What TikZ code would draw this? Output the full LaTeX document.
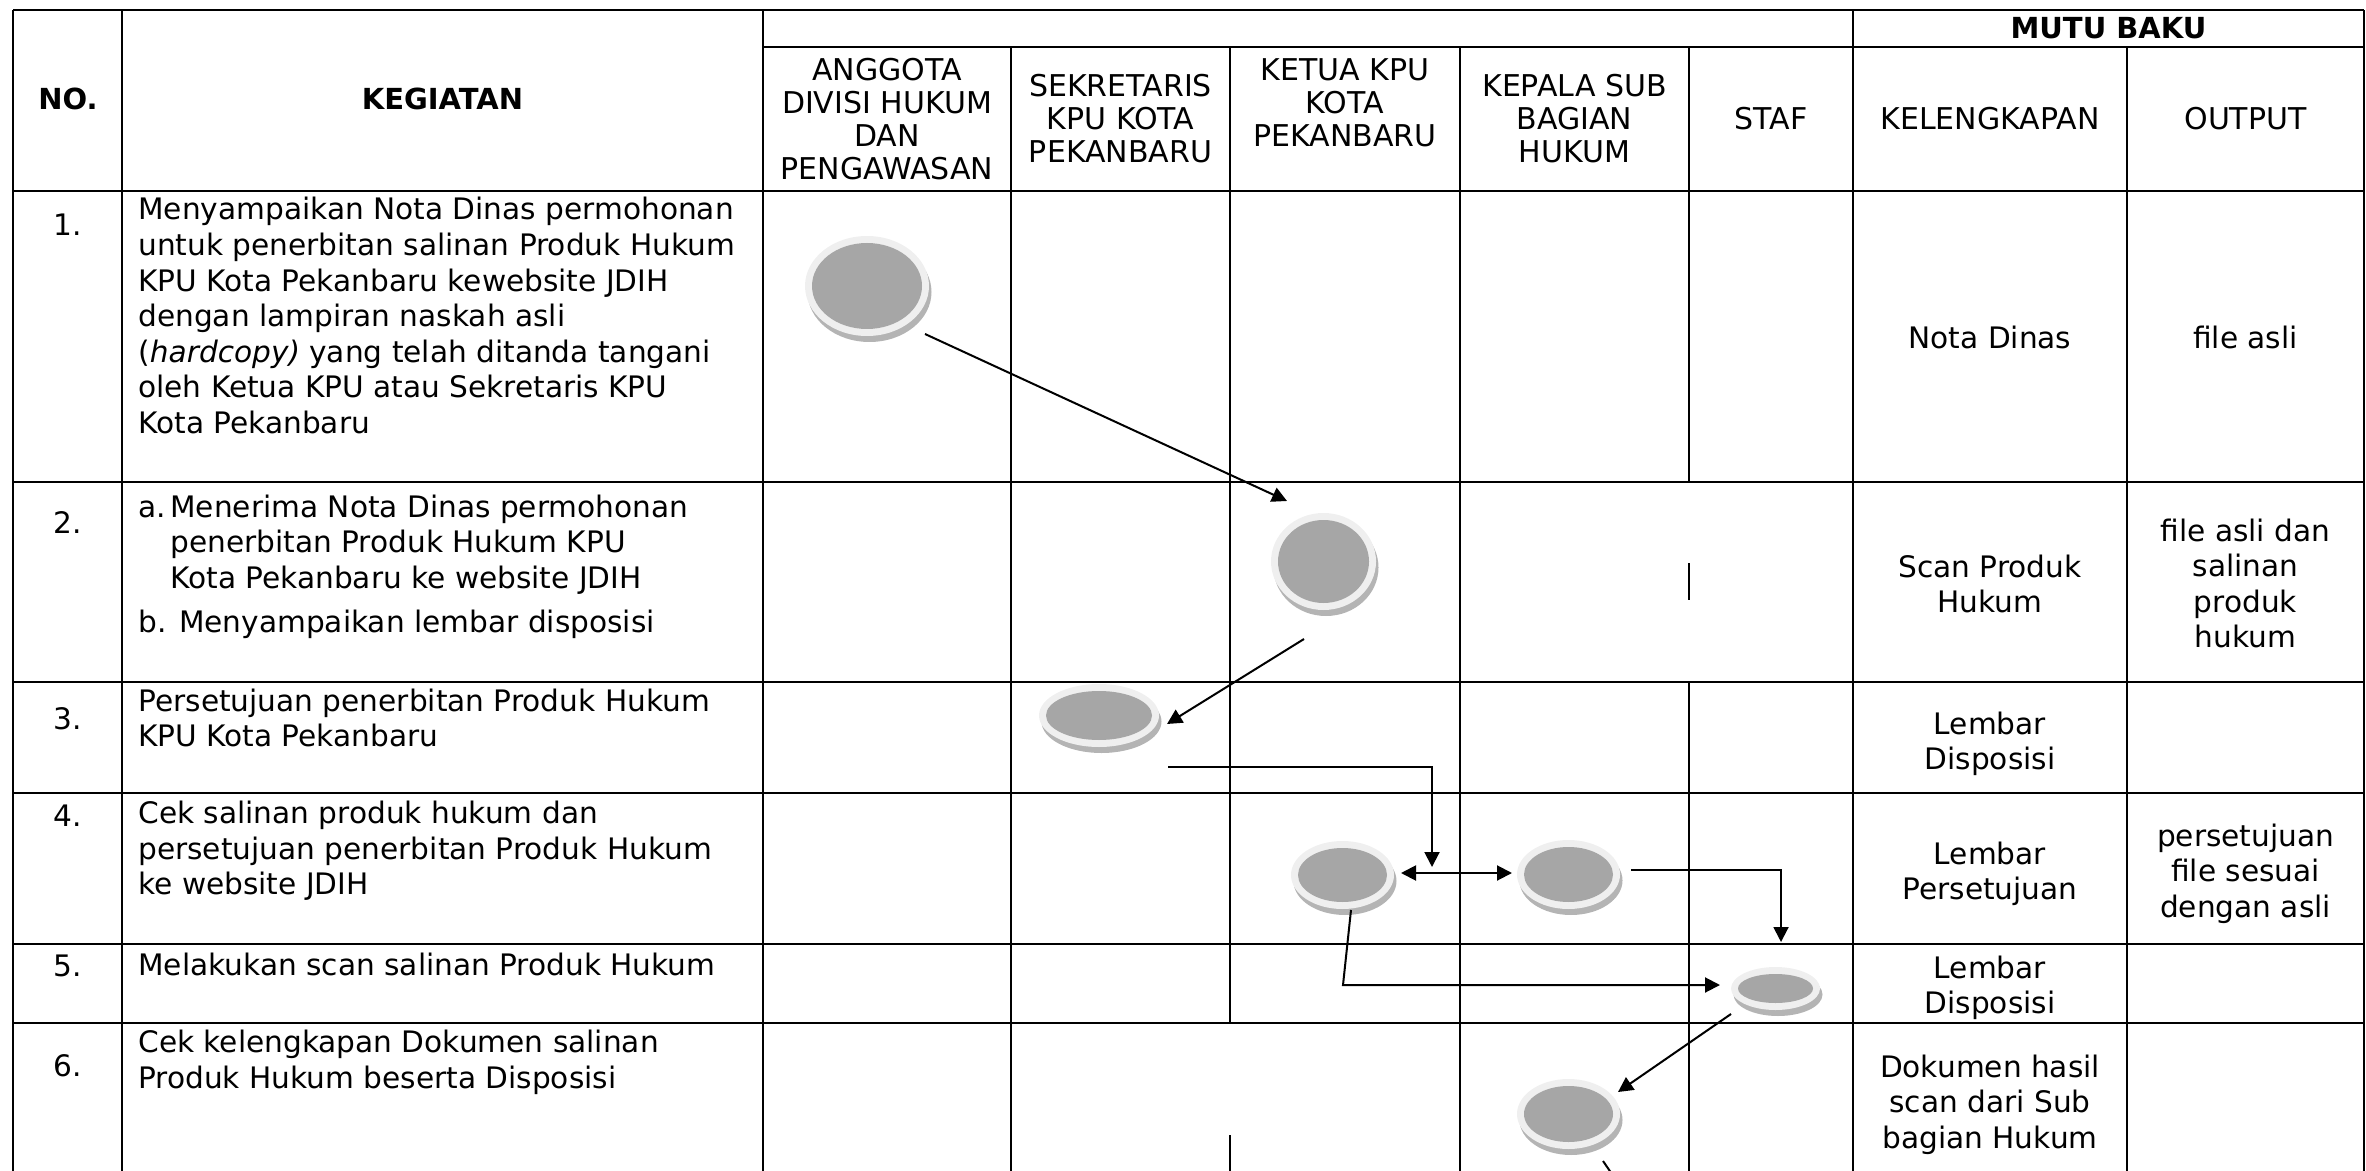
\documentclass[tikz,border=0pt]{standalone}
\usepackage{fontspec}
\setmainfont{DejaVu Sans}
\usetikzlibrary{shapes.geometric,arrows.meta,calc}
\definecolor{btnrim}{HTML}{EFEFEF}
\definecolor{btnin}{HTML}{A6A6A6}
\definecolor{btnshade}{HTML}{B4B4B4}
\newcommand\cellL[1]{\begin{tabular}[t]{@{}l@{}}#1\end{tabular}}
\newcommand\cellC[1]{\begin{tabular}[t]{@{}c@{}}#1\end{tabular}}
\begin{document}
\begin{tikzpicture}[x=0.5pt,y=-0.5pt,
  hline/.style={line width=1pt},
  vline/.style={line width=0.7pt},
  body/.style={font=\fontsize{14.8}{17.8}\selectfont, inner sep=0pt},
  numtext/.style={body, anchor=base},
  lefttext/.style={body, anchor=base west},
  righttext/.style={body, anchor=base},
  hdr/.style={font=\fontsize{15}{16.5}\selectfont, align=center, inner sep=0pt, anchor=center},
  hdrb/.style={font=\bfseries\fontsize{14.5}{16.5}\selectfont, inner sep=0pt, anchor=center},
  btn/.style 2 args={shape=ellipse, inner sep=0pt, outer sep=0pt,
    minimum width={(#1+14)*0.5pt}, minimum height={(#2+14)*0.5pt},
    fill=btnrim,
    preaction={fill=btnshade, transform canvas={shift={(2.5,6)}}},
    path picture={\fill[btnin] (path picture bounding box.center) ellipse [x radius={#1*0.25pt}, y radius={#2*0.25pt}];}},
  conn/.style={line width=1pt},
  arr/.style={-{Triangle[length=7.5pt,width=7.5pt]}},
  darr/.style={{Triangle[length=7.5pt,width=7.5pt]}-{Triangle[length=7.5pt,width=7.5pt]}}
]
\useasboundingbox (0,0) rectangle (2366,1171);
\clip (0,0) rectangle (2366,1171);
% ---------- table grid ----------
\draw[hline] (13,10) -- (2364,10);
\draw[hline] (763,47) -- (2364,47);
\foreach \yy in {191,482,682,793,944,1023}
  \draw[hline] (13,\yy) -- (2364,\yy);
\draw[vline] (13,10) -- (13,1180);
\draw[vline] (122,10) -- (122,1180);
\draw[vline] (763,10) -- (763,1180);
\draw[vline] (1853,10) -- (1853,1180);
\draw[vline] (2364,10) -- (2364,1180);
\draw[vline] (2127,47) -- (2127,1180);
\draw[vline] (1011,47) -- (1011,1180);
\draw[vline] (1460,47) -- (1460,1180);
\draw[vline] (1230,47) -- (1230,1023);
\draw[vline] (1230,1135) -- (1230,1180);
\draw[vline] (1689,47) -- (1689,482);
\draw[vline] (1689,563) -- (1689,600);
\draw[vline] (1689,682) -- (1689,1180);
% ---------- header ----------
\node[hdrb] (hno) at (68,99) {NO.};
\node[hdrb] (hkeg) at (442.5,99) {KEGIATAN};
\node[hdrb] (hmutu) at (2108.5,28) {MUTU BAKU};
\node[hdr] (h1) at (887,119) {ANGGOTA\\DIVISI HUKUM\\DAN\\PENGAWASAN};
\node[hdr] (h2) at (1120.5,119) {SEKRETARIS\\KPU KOTA\\PEKANBARU};
\node[hdr] (h3) at (1345,103) {KETUA KPU\\KOTA\\PEKANBARU};
\node[hdr] (h4) at (1574.5,119) {KEPALA SUB\\BAGIAN\\HUKUM};
\node[hdr] (h5) at (1771,119) {STAF};
\node[hdr] (h6) at (1990,119) {KELENGKAPAN};
\node[hdr] (h7) at (2245.5,119) {OUTPUT};
% ---------- numbers ----------
\node[numtext] (n1) at (68,236) {1.};
\node[numtext] (n2) at (68,533) {2.};
\node[numtext] (n3) at (68,729) {3.};
\node[numtext] (n4) at (68,826) {4.};
\node[numtext] (n5) at (68,976) {5.};
\node[numtext] (n6) at (68,1076) {6.};
% ---------- activities ----------
\node[lefttext] (k1) at (138,220) {\cellL{Menyampaikan Nota Dinas permohonan\\
  untuk penerbitan salinan Produk Hukum\\
  KPU Kota Pekanbaru kewebsite JDIH\\
  dengan lampiran naskah asli\\
  (\textit{hardcopy)} yang telah ditanda tangani\\
  oleh Ketua KPU atau Sekretaris KPU\\
  Kota Pekanbaru}};
\node[lefttext] (k2) at (138,517) {\begin{tabular}[t]{@{}p{16pt}@{}l@{}}
  a. & Menerima Nota Dinas permohonan\\
     & penerbitan Produk Hukum KPU\\
     & Kota Pekanbaru ke website JDIH\\[4.5pt]
  \multicolumn{2}{@{}l@{}}{b. Menyampaikan lembar disposisi}
  \end{tabular}};
\node[lefttext] (k3) at (138,711) {\cellL{Persetujuan penerbitan Produk Hukum\\KPU Kota Pekanbaru}};
\node[lefttext] (k4) at (138,823.6) {\cellL{Cek salinan produk hukum dan\\persetujuan penerbitan Produk Hukum\\ke website JDIH}};
\node[lefttext] (k5) at (138,975.6) {Melakukan scan salinan Produk Hukum};
\node[lefttext] (k6) at (138,1052.7) {\cellL{Cek kelengkapan Dokumen salinan\\Produk Hukum beserta Disposisi}};
% ---------- mutu baku ----------
\node[righttext] (l1) at (1990,349) {Nota Dinas};
\node[righttext] (l2) at (1990,577) {\cellC{Scan Produk\\Hukum}};
\node[righttext] (l3) at (1990,734) {\cellC{Lembar\\Disposisi}};
\node[righttext] (l4) at (1990,864) {\cellC{Lembar\\Persetujuan}};
\node[righttext] (l5) at (1990,978) {\cellC{Lembar\\Disposisi}};
\node[righttext] (l6) at (1990,1077) {\cellC{Dokumen hasil\\scan dari Sub\\bagian Hukum}};
\node[righttext] (o1) at (2245.5,349) {file asli};
\node[righttext] (o2) at (2245.5,541) {\cellC{file asli dan\\salinan\\produk\\hukum}};
\node[righttext] (o4) at (2245.5,846) {\cellC{persetujuan\\file sesuai\\dengan asli}};
% ---------- flow symbols ----------
\node[btn={110}{86}] (A) at (867,286) {};
\node[btn={91}{83}] (B) at (1323.5,561.5) {};
\node[btn={106}{49}] (C) at (1099,715.5) {};
\node[btn={89}{54}] (D) at (1342.5,875) {};
\node[btn={89}{55}] (E) at (1568.5,874.5) {};
\node[btn={75}{29}] (F) at (1775.5,988.5) {};
\node[btn={89}{56}] (G) at (1568.5,1114) {};
\coordinate (gout) at (1616,1180);
% ---------- connectors ----------
\draw[conn,arr] ($(A)+(58,48)$) -- ($(B)+(-36.5,-60.5)$);
\draw[conn,arr] ($(B)+(-19.5,77.5)$) -- ($(C)+(68,8.5)$);
\draw[conn,arr] ($(C)+(69,51.5)$) -| ($(D)+(89.5,-8)$);
\draw[conn,darr] ($(D)+(58.5,-2)$) -- ($(E)+(-56.5,-1.5)$);
\draw[conn,arr] ($(E)+(62.5,-4.5)$) -| ($(F)+(5.5,-46.5)$);
\draw[conn,arr] ($(D)+(8.5,35)$) -- ($(D)+(0.5,110)$) -- ($(F)+(-55.5,-3.5)$);
\draw[conn,arr] ($(F)+(-44.5,25.5)$) -- ($(G)+(49.5,-22)$);
\draw[conn] ($(G)+(34.5,47)$) -- (gout);
\end{tikzpicture}
\end{document}
